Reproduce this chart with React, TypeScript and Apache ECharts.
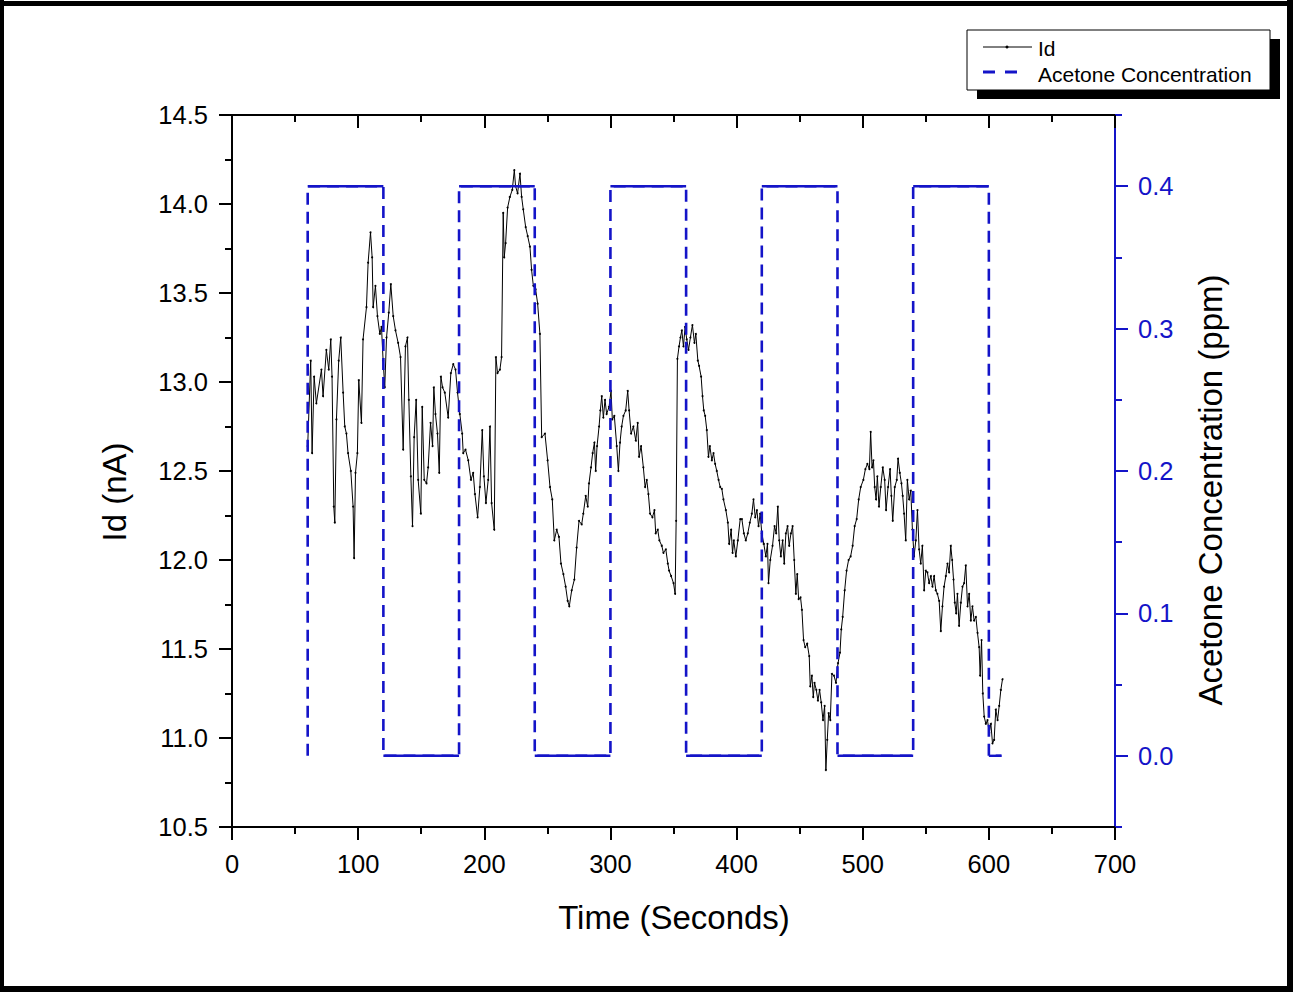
import React, { useEffect, useRef } from "react";
import * as echarts from "echarts";

const FONT = "Arial, 'Liberation Sans', Helvetica, sans-serif";
const BLUE = "#1414C8";

// Id (nA) readings over time (s)
const idTime = [
  60, 62.4, 63.5, 65.1, 66.9, 70.9, 72.2, 74.8, 76.7, 78.3, 79.3, 80.7, 81.5, 82.8, 84.6, 86.2, 88.1, 89.4, 90.7, 92.0,
  94.2, 96.0, 96.8, 97.9, 99.4, 100.5, 102.6, 103.9, 106.6, 107.9, 109.8, 111.1, 111.9, 113.7, 115.3, 117.2, 118.5, 119.8, 121.1, 122.5,
  124.3, 125.9, 127.8, 129.6, 131.7, 133.6, 135.7, 137.5, 139.1, 140.2, 141.8, 143.1, 144.4, 146.0, 147.6, 149.7, 150.8, 152.4, 154.2, 155.5,
  157.4, 159.0, 160.0, 161.3, 162.9, 164.3, 165.6, 166.9, 168.7, 171.4, 173.5, 175.4, 177.2, 178.8, 180.6, 182.5, 183.3, 185.1, 187.3, 189.4,
  191.2, 192.6, 194.7, 196.5, 198.4, 199.7, 201.3, 203.1, 204.5, 205.8, 207.9, 209.2, 210.5, 212.4, 213.7, 215.0, 215.8, 216.9, 218.5, 220.3,
  222.2, 223.8, 224.8, 226.4, 228.3, 229.6, 230.9, 232.8, 234.4, 236.2, 237.5, 238.9, 240.7, 242.3, 244.1, 245.5, 248.1, 250.2, 252.1, 253.9,
  255.5, 257.4, 259.2, 260.8, 262.7, 264.5, 266.1, 267.4, 269.3, 271.4, 273.2, 275.1, 277.2, 278.5, 280.4, 282.0, 283.0, 284.6, 285.9, 287.3,
  288.3, 289.4, 291.0, 292.0, 293.1, 294.4, 295.7, 297.0, 298.9, 300.5, 301.5, 303.1, 305.0, 306.3, 307.6, 308.9, 310.3, 312.1, 313.7, 314.8,
  316.4, 318.2, 320.1, 321.6, 322.7, 324.3, 326.1, 327.5, 328.8, 330.1, 331.4, 333.3, 334.9, 335.9, 337.5, 338.8, 340.7, 342.0, 343.9, 345.5,
  346.5, 348.1, 350.0, 351.3, 352.1, 353.1, 354.4, 355.5, 356.6, 357.9, 359.2, 360.5, 361.9, 363.4, 365.0, 366.6, 367.7, 369.3, 370.3, 371.9,
  373.0, 374.0, 375.1, 376.4, 377.7, 378.8, 380.4, 381.7, 383.0, 384.3, 385.7, 387.0, 388.3, 389.6, 391.5, 393.1, 394.1, 395.7, 396.8, 397.8,
  399.4, 401.0, 402.9, 404.2, 405.8, 407.3, 408.9, 410.5, 412.1, 413.4, 414.8, 416.1, 417.4, 418.7, 420.0, 421.6, 423.2, 424.5, 425.3, 426.7,
  428.5, 430.1, 431.4, 432.7, 433.8, 435.1, 436.5, 437.8, 439.1, 440.4, 441.7, 443.1, 444.4, 445.7, 447.0, 448.1, 449.2, 450.7, 451.8, 453.1,
  454.4, 456.0, 457.6, 458.4, 459.7, 460.8, 461.8, 463.2, 464.5, 465.8, 467.1, 468.5, 469.8, 470.8, 471.9, 473.0, 474.3, 475.6, 477.2, 478.8,
  480.4, 482.0, 483.0, 484.1, 485.7, 487.2, 488.8, 490.4, 492.0, 493.6, 495.2, 496.8, 498.4, 500.5, 502.1, 503.7, 505.3, 506.3, 507.4, 508.5,
  509.5, 510.6, 511.6, 512.9, 514.3, 515.9, 517.4, 518.5, 520.1, 521.7, 522.7, 523.8, 525.4, 527.0, 528.0, 529.4, 530.7, 531.7, 532.8, 534.1,
  535.4, 536.8, 538.1, 539.4, 540.7, 542.1, 543.4, 544.7, 546.0, 547.3, 548.7, 550.0, 551.3, 552.6, 554.0, 555.3, 556.6, 557.9, 559.2, 560.6,
  561.9, 563.2, 564.5, 565.9, 567.2, 568.5, 569.8, 570.9, 572.0, 573.0, 574.1, 575.1, 576.4, 577.8, 579.1, 580.4, 581.7, 583.1, 584.4, 585.7,
  587.0, 588.3, 589.7, 591.0, 592.3, 593.1, 594.2, 595.2, 596.3, 597.6, 598.9, 600.3, 601.6, 602.9, 604.2, 605.5, 606.9, 608.2, 609.5, 610.8,
];

const idCurrent = [
  12.64, 13.12, 12.60, 13.03, 12.88, 13.07, 12.92, 13.18, 13.07, 13.24, 13.03, 12.30, 12.21, 12.79, 13.12, 13.25, 12.94, 12.75, 12.71, 12.60,
  12.50, 12.30, 12.01, 12.49, 12.60, 13.01, 12.77, 13.24, 13.42, 13.67, 13.84, 13.70, 13.42, 13.54, 13.37, 13.27, 13.31, 13.12, 12.97, 13.25,
  13.39, 13.55, 13.37, 13.29, 13.22, 13.14, 12.62, 13.20, 13.25, 12.90, 12.47, 12.19, 12.69, 12.90, 12.45, 12.26, 12.86, 12.45, 12.43, 12.52,
  12.77, 12.64, 12.97, 12.82, 12.71, 12.49, 13.03, 12.97, 12.94, 12.80, 13.05, 13.10, 13.07, 12.94, 12.82, 12.71, 12.60, 12.62, 12.56, 12.45,
  12.49, 12.37, 12.24, 12.41, 12.73, 12.47, 12.32, 12.45, 12.75, 12.32, 12.17, 13.14, 13.05, 13.07, 13.14, 13.95, 13.70, 13.78, 13.98, 14.04,
  14.08, 14.19, 14.10, 14.06, 14.17, 14.04, 13.97, 13.87, 13.82, 13.76, 13.63, 13.54, 13.52, 13.44, 13.27, 12.69, 12.71, 12.56, 12.41, 12.34,
  12.11, 12.17, 12.13, 11.98, 11.92, 11.85, 11.77, 11.74, 11.83, 11.89, 12.07, 12.22, 12.20, 12.26, 12.36, 12.30, 12.43, 12.52, 12.60, 12.66,
  12.50, 12.64, 12.75, 12.84, 12.92, 12.80, 12.90, 12.82, 12.86, 12.95, 12.79, 12.81, 12.64, 12.50, 12.66, 12.75, 12.81, 12.84, 12.95, 12.84,
  12.71, 12.75, 12.67, 12.77, 12.58, 12.64, 12.52, 12.41, 12.45, 12.37, 12.26, 12.24, 12.28, 12.15, 12.17, 12.11, 12.08, 12.04, 12.06, 11.98,
  11.94, 11.91, 11.87, 11.81, 12.22, 13.13, 13.20, 13.25, 13.29, 13.20, 13.31, 13.24, 13.18, 13.25, 13.32, 13.22, 13.27, 13.12, 13.09, 13.03,
  12.92, 12.84, 12.81, 12.73, 12.58, 12.64, 12.56, 12.60, 12.54, 12.50, 12.45, 12.41, 12.40, 12.34, 12.28, 12.21, 12.09, 12.17, 12.04, 12.11,
  12.02, 12.11, 12.23, 12.23, 12.15, 12.11, 12.15, 12.21, 12.26, 12.34, 12.24, 12.28, 12.19, 12.26, 12.15, 12.09, 12.02, 12.09, 11.87, 12.00,
  12.08, 12.19, 12.15, 12.30, 12.11, 12.02, 12.11, 11.98, 12.15, 12.19, 12.08, 12.15, 12.19, 12.00, 11.81, 11.92, 11.78, 11.79, 11.72, 11.55,
  11.51, 11.53, 11.46, 11.29, 11.35, 11.23, 11.31, 11.27, 11.21, 11.27, 11.20, 11.10, 11.18, 10.82, 10.99, 11.14, 11.10, 11.36, 11.35, 11.31,
  11.42, 11.48, 11.61, 11.68, 11.83, 11.94, 12.00, 12.02, 12.08, 12.19, 12.23, 12.34, 12.41, 12.45, 12.51, 12.54, 12.51, 12.72, 12.52, 12.56,
  12.41, 12.34, 12.47, 12.30, 12.41, 12.52, 12.45, 12.28, 12.41, 12.51, 12.36, 12.22, 12.41, 12.45, 12.57, 12.49, 12.43, 12.36, 12.26, 12.11,
  12.45, 12.34, 12.39, 12.17, 12.02, 12.11, 12.28, 12.06, 11.98, 12.08, 11.83, 11.94, 11.93, 11.87, 11.91, 11.85, 11.91, 11.83, 11.81, 11.77,
  11.60, 11.74, 11.85, 11.91, 11.98, 11.93, 12.08, 12.00, 11.89, 11.76, 11.70, 11.81, 11.63, 11.76, 11.85, 11.87, 11.97, 11.74, 11.81, 11.66,
  11.74, 11.66, 11.68, 11.59, 11.51, 11.35, 11.55, 11.25, 11.12, 11.08, 11.10, 11.03, 11.08, 10.97, 10.99, 11.16, 11.10, 11.18, 11.27, 11.33,
];

// Acetone concentration (ppm): switching times and the level after each switch
const switchTimes = [60, 120, 180, 240, 300, 360, 420, 480, 540, 600];
const levelAfterSwitch = [0.4, 0, 0.4, 0, 0.4, 0, 0.4, 0, 0.4, 0];
const acetoneStartLevel = 0;
const acetoneEndTime = 610;

const rightTickValues = [0, 0.1, 0.2, 0.3, 0.4];

const TITLE_X = "Time (Seconds)";
const TITLE_Y_LEFT = "Id (nA)";
const TITLE_Y_RIGHT = "Acetone Concentration (ppm)";
const LEGEND_NAMES = ["Id", "Acetone Concentration"];

export default function App() {
  const ref = useRef<HTMLDivElement>(null);

  useEffect(() => {
    if (!ref.current) return;
    const chart = echarts.init(ref.current, undefined, { renderer: "svg" });

    const idData = idTime.map((t, i) => [t, idCurrent[i]]);

    const stepPath: number[][] = [];
    let level = acetoneStartLevel;
    switchTimes.forEach((t, i) => {
      stepPath.push([t, level]);
      level = levelAfterSwitch[i];
      stepPath.push([t, level]);
    });
    stepPath.push([acetoneEndTime, level]);

    const flatSeries = switchTimes.map((t, i) => ({
      type: "line",
      name: "flat" + i,
      xAxisIndex: 0,
      yAxisIndex: 1,
      data: [
        [t, levelAfterSwitch[i]],
        [i + 1 < switchTimes.length ? switchTimes[i + 1] : acetoneEndTime, levelAfterSwitch[i]],
      ],
      symbol: "none",
      silent: true,
      z: 6,
      lineStyle: { color: BLUE, width: 2.4, type: "solid" },
    }));

    const tickBlack = { color: "#000", width: 2 };

    const option: any = {
      animation: false,
      backgroundColor: "#fff",
      grid: { left: 232, right: 178, top: 115, bottom: 165, containLabel: false },
      xAxis: [
        {
          type: "value",
          position: "bottom",
          min: 0,
          max: 700,
          interval: 100,
          axisLine: { show: true, onZero: false, lineStyle: tickBlack },
          axisTick: { show: true, inside: false, length: 13, lineStyle: tickBlack },
          minorTick: { show: true, splitNumber: 2, length: 7, lineStyle: tickBlack },
          axisLabel: { color: "#000", fontSize: 25.5, fontFamily: FONT, margin: 24 },
          splitLine: { show: false },
          minorSplitLine: { show: false },
        },
        {
          type: "value",
          position: "top",
          min: 0,
          max: 700,
          interval: 100,
          axisLine: { show: true, onZero: false, lineStyle: tickBlack },
          axisTick: { show: true, inside: true, length: 13, lineStyle: tickBlack },
          minorTick: { show: true, splitNumber: 2, length: 7, lineStyle: tickBlack },
          axisLabel: { show: false },
          splitLine: { show: false },
          minorSplitLine: { show: false },
        },
      ],
      yAxis: [
        {
          type: "value",
          position: "left",
          min: 10.5,
          max: 14.5,
          interval: 0.5,
          axisLine: { show: true, onZero: false, lineStyle: tickBlack },
          axisTick: { show: true, inside: false, length: 13, lineStyle: tickBlack },
          minorTick: { show: true, splitNumber: 2, length: 7, lineStyle: tickBlack },
          axisLabel: {
            color: "#000",
            fontSize: 25.5,
            fontFamily: FONT,
            margin: 24,
            formatter: (v: number) => v.toFixed(1),
          },
          splitLine: { show: false },
          minorSplitLine: { show: false },
        },
        {
          type: "value",
          position: "right",
          offset: 0,
          min: -0.05,
          max: 0.45,
          axisLine: { show: true, onZero: false, lineStyle: { color: BLUE, width: 2 } },
          axisTick: {
            show: true,
            inside: false,
            length: 13,
            customValues: rightTickValues,
            lineStyle: { color: BLUE, width: 2 },
          },
          axisLabel: {
            color: BLUE,
            fontSize: 25.5,
            fontFamily: FONT,
            margin: 23,
            customValues: rightTickValues,
            formatter: (v: number) => v.toFixed(1),
          },
          splitLine: { show: false },
        },
        {
          type: "value",
          position: "right",
          offset: 0,
          min: -0.05,
          max: 0.45,
          interval: 0.05,
          axisLine: { show: false, onZero: false },
          axisTick: { show: true, inside: false, length: 7, lineStyle: { color: BLUE, width: 2 } },
          axisLabel: { show: false },
          splitLine: { show: false },
        },
      ],
      series: [
        {
          type: "line",
          name: LEGEND_NAMES[0],
          xAxisIndex: 0,
          yAxisIndex: 0,
          data: idData,
          symbol: "circle",
          symbolSize: 2,
          showSymbol: true,
          z: 2,
          itemStyle: { color: "#000" },
          lineStyle: { color: "#000", width: 1 },
        },
        {
          type: "line",
          name: LEGEND_NAMES[1],
          xAxisIndex: 0,
          yAxisIndex: 1,
          data: stepPath,
          symbol: "none",
          z: 5,
          lineStyle: { color: BLUE, width: 2.6, type: [12, 7] },
        },
        ...flatSeries,
      ],
      graphic: [
        // outer frame
        { type: "rect", shape: { x: 0, y: 1, width: 1293, height: 5 }, style: { fill: "#000" }, silent: true },
        { type: "rect", shape: { x: 0, y: 0, width: 4, height: 992 }, style: { fill: "#000" }, silent: true },
        { type: "rect", shape: { x: 1287, y: 0, width: 6, height: 992 }, style: { fill: "#000" }, silent: true },
        { type: "rect", shape: { x: 0, y: 986, width: 1293, height: 6 }, style: { fill: "#000" }, silent: true },
        // axis titles
        {
          type: "text",
          x: 674,
          y: 917,
          style: { text: TITLE_X, font: `33px ${FONT}`, fill: "#000", align: "center", verticalAlign: "middle" },
          silent: true,
        },
        {
          type: "text",
          x: 114,
          y: 492,
          rotation: Math.PI / 2,
          style: { text: TITLE_Y_LEFT, font: `33px ${FONT}`, fill: "#000", align: "center", verticalAlign: "middle" },
          silent: true,
        },
        {
          type: "text",
          x: 1210,
          y: 490,
          rotation: Math.PI / 2,
          style: { text: TITLE_Y_RIGHT, font: `33px ${FONT}`, fill: "#000", align: "center", verticalAlign: "middle" },
          silent: true,
        },
        // legend box with shadow
        { type: "rect", shape: { x: 977, y: 39, width: 303, height: 60 }, style: { fill: "#000" }, silent: true, z: 10 },
        {
          type: "rect",
          shape: { x: 967, y: 30, width: 303, height: 60 },
          style: { fill: "#fff", stroke: "#000", lineWidth: 1 },
          silent: true,
          z: 11,
        },
        {
          type: "line",
          shape: { x1: 983, y1: 47, x2: 1032, y2: 47 },
          style: { stroke: "#000", lineWidth: 1 },
          silent: true,
          z: 12,
        },
        { type: "circle", shape: { cx: 1007, cy: 47, r: 1.5 }, style: { fill: "#000" }, silent: true, z: 12 },
        {
          type: "text",
          x: 1038,
          y: 48.5,
          style: { text: LEGEND_NAMES[0], font: `21px ${FONT}`, fill: "#000", align: "left", verticalAlign: "middle" },
          silent: true,
          z: 12,
        },
        {
          type: "line",
          shape: { x1: 983, y1: 72, x2: 1018, y2: 72 },
          style: { stroke: BLUE, lineWidth: 3, lineDash: [12, 10] },
          silent: true,
          z: 12,
        },
        {
          type: "text",
          x: 1038,
          y: 74.5,
          style: { text: LEGEND_NAMES[1], font: `21px ${FONT}`, fill: "#000", align: "left", verticalAlign: "middle" },
          silent: true,
          z: 12,
        },
      ],
    };

    chart.setOption(option);
    return () => chart.dispose();
  }, []);

  return (
    <div
      ref={ref}
      style={{ position: "absolute", left: 0, top: 0, width: 1293, height: 992, background: "#fff" }}
    />
  );
}
